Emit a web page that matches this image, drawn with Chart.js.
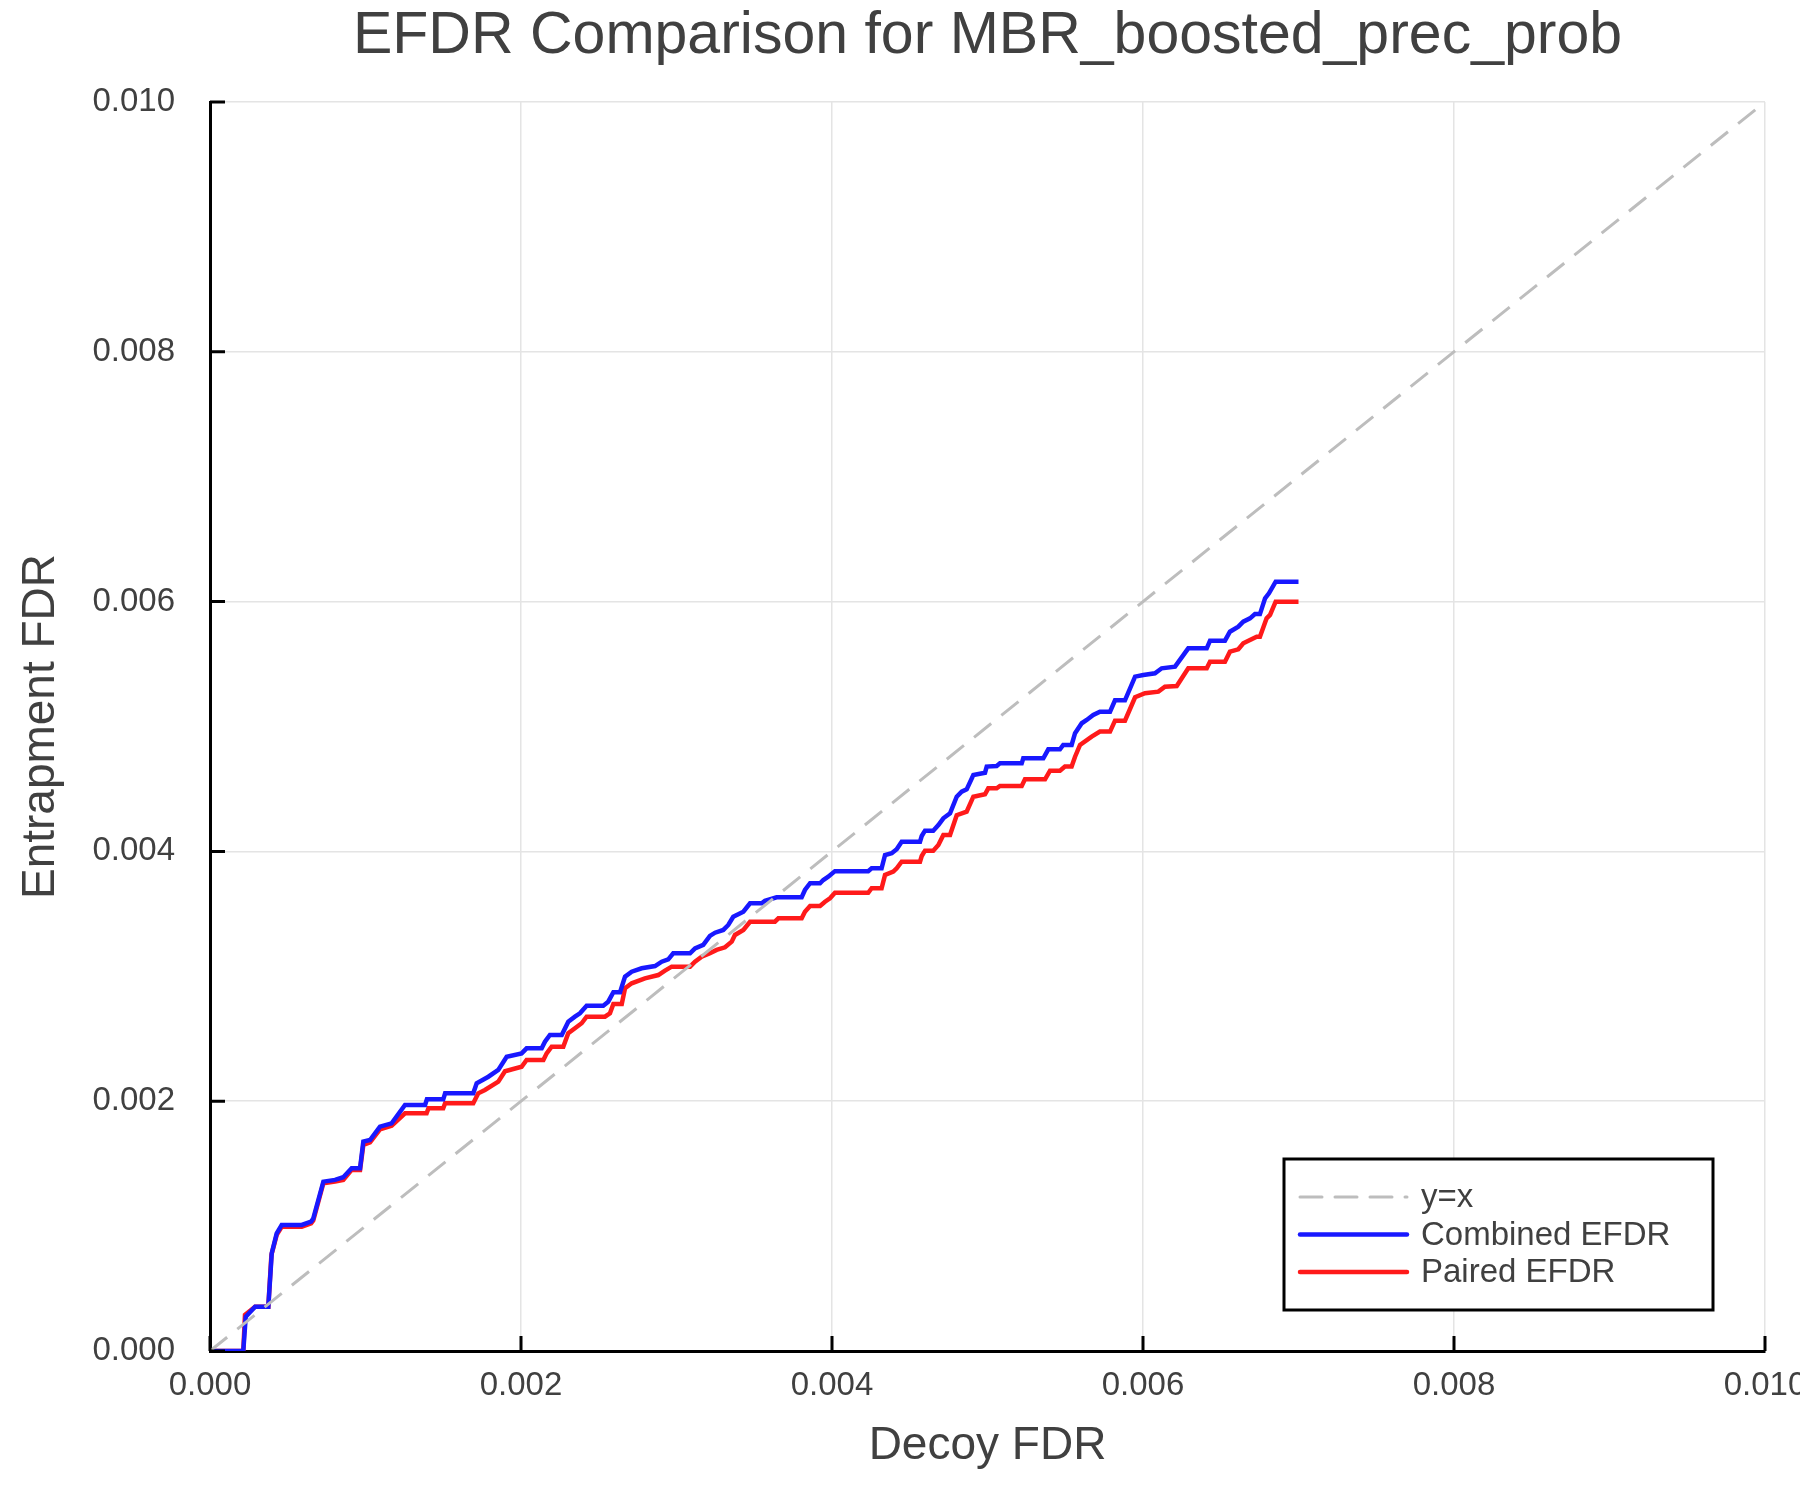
<!DOCTYPE html>
<html>
<head>
<meta charset="utf-8">
<title>EFDR Comparison</title>
<script src="https://cdn.jsdelivr.net/npm/chart.js@4.4.1/dist/chart.umd.min.js"></script>
<style>
  html, body { margin: 0; padding: 0; background: #fff; }
  canvas { display: block; }
</style>
</head>
<body>
<canvas id="efdrChart" width="1800" height="1500"></canvas>
<script>
const titleText = "EFDR Comparison for MBR_boosted_prec_prob";
const seriesLabels = ["y=x", "Combined EFDR", "Paired EFDR"];
const tickValues = [0, 0.002, 0.004, 0.006, 0.008, 0.010];

const diagX = [0, 0.01];
const diagY = [0, 0.01];

const combinedX = [
    0, 0.000214, 0.000230, 0.000290, 0.000375, 0.000397, 0.000429, 0.000461, 0.000590, 0.000650,
    0.000664, 0.000729, 0.000804, 0.000857, 0.000911, 0.000965, 0.000986, 0.001029, 0.001093, 0.001168,
    0.001254, 0.001383, 0.001395, 0.001500, 0.001512, 0.001693, 0.001715, 0.001790, 0.001854, 0.001908,
    0.002004, 0.002036, 0.002133, 0.002154, 0.002186, 0.002262, 0.002304, 0.002347, 0.002379, 0.002422,
    0.002529, 0.002561, 0.002594, 0.002637, 0.002669, 0.002712, 0.002776, 0.002862, 0.002905, 0.002947,
    0.002979, 0.003087, 0.003119, 0.003172, 0.003215, 0.003248, 0.003301, 0.003333, 0.003365, 0.003430,
    0.003473, 0.003548, 0.003569, 0.003644, 0.003805, 0.003826, 0.003859, 0.003923, 0.003944, 0.003976,
    0.004019, 0.004233, 0.004255, 0.004319, 0.004341, 0.004384, 0.004416, 0.004448, 0.004566, 0.004577,
    0.004598, 0.004651, 0.004684, 0.004716, 0.004759, 0.004802, 0.004834, 0.004866, 0.004909, 0.004984,
    0.004995, 0.005059, 0.005080, 0.005220, 0.005230, 0.005359, 0.005391, 0.005466, 0.005487, 0.005541,
    0.005563, 0.005606, 0.005638, 0.005680, 0.005723, 0.005788, 0.005820, 0.005884, 0.005949, 0.006002,
    0.006077, 0.006120, 0.006206, 0.006291, 0.006410, 0.006431, 0.006527, 0.006559, 0.006613, 0.006645,
    0.006688, 0.006720, 0.006752, 0.006785, 0.006810, 0.006853, 0.007000
];
const combinedEfdr = [
    0, 0, 0.000275, 0.000355, 0.000355, 0.000782, 0.000942, 0.001009, 0.001009, 0.001035,
    0.001060, 0.001356, 0.001370, 0.001391, 0.001463, 0.001463, 0.001676, 0.001689, 0.001796, 0.001823,
    0.001970, 0.001970, 0.002015, 0.002015, 0.002063, 0.002063, 0.002143, 0.002196, 0.002250, 0.002356,
    0.002383, 0.002423, 0.002423, 0.002476, 0.002530, 0.002530, 0.002637, 0.002677, 0.002704, 0.002765,
    0.002765, 0.002797, 0.002872, 0.002872, 0.002997, 0.003037, 0.003064, 0.003082, 0.003117, 0.003136,
    0.003184, 0.003184, 0.003224, 0.003251, 0.003323, 0.003349, 0.003371, 0.003411, 0.003477, 0.003517,
    0.003585, 0.003585, 0.003605, 0.003633, 0.003633, 0.003691, 0.003745, 0.003745, 0.003771, 0.003797,
    0.003842, 0.003842, 0.003865, 0.003865, 0.003971, 0.003985, 0.004017, 0.004078, 0.004078, 0.004123,
    0.004166, 0.004166, 0.004211, 0.004265, 0.004305, 0.004438, 0.004478, 0.004497, 0.004612, 0.004630,
    0.004679, 0.004684, 0.004705, 0.004705, 0.004745, 0.004745, 0.004817, 0.004817, 0.004852, 0.004852,
    0.004946, 0.005026, 0.005052, 0.005092, 0.005119, 0.005119, 0.005210, 0.005210, 0.005399, 0.005412,
    0.005426, 0.005466, 0.005479, 0.005626, 0.005626, 0.005687, 0.005687, 0.005759, 0.005799, 0.005839,
    0.005866, 0.005900, 0.005900, 0.006026, 0.006066, 0.006159, 0.006159
];

const pairedX = [
    0, 0.000214, 0.000225, 0.000290, 0.000375, 0.000395, 0.000429, 0.000461, 0.000590, 0.000650,
    0.000664, 0.000729, 0.000804, 0.000857, 0.000911, 0.000965, 0.000986, 0.001029, 0.001093, 0.001168,
    0.001254, 0.001393, 0.001405, 0.001500, 0.001512, 0.001693, 0.001725, 0.001768, 0.001854, 0.001897,
    0.002004, 0.002036, 0.002144, 0.002165, 0.002197, 0.002272, 0.002304, 0.002347, 0.002390, 0.002422,
    0.002540, 0.002572, 0.002594, 0.002648, 0.002669, 0.002712, 0.002797, 0.002883, 0.002926, 0.002969,
    0.003087, 0.003119, 0.003162, 0.003215, 0.003258, 0.003312, 0.003355, 0.003376, 0.003430, 0.003473,
    0.003633, 0.003655, 0.003805, 0.003826, 0.003859, 0.003923, 0.003955, 0.003987, 0.004019, 0.004233,
    0.004255, 0.004319, 0.004341, 0.004394, 0.004416, 0.004448, 0.004566, 0.004577, 0.004598, 0.004651,
    0.004684, 0.004716, 0.004759, 0.004802, 0.004866, 0.004909, 0.004984, 0.005005, 0.005059, 0.005080,
    0.005220, 0.005241, 0.005370, 0.005402, 0.005466, 0.005498, 0.005541, 0.005563, 0.005595, 0.005670,
    0.005723, 0.005788, 0.005820, 0.005884, 0.005949, 0.006013, 0.006099, 0.006141, 0.006217, 0.006291,
    0.006410, 0.006431, 0.006527, 0.006559, 0.006613, 0.006645, 0.006688, 0.006731, 0.006752, 0.006795,
    0.006817, 0.006853, 0.007000
];
const pairedEfdr = [
    0, 0, 0.000290, 0.000355, 0.000355, 0.000770, 0.000930, 0.000995, 0.000995, 0.001022,
    0.001045, 0.001343, 0.001356, 0.001370, 0.001450, 0.001450, 0.001650, 0.001670, 0.001775, 0.001803,
    0.001903, 0.001903, 0.001943, 0.001943, 0.001983, 0.001983, 0.002063, 0.002090, 0.002156, 0.002240,
    0.002276, 0.002330, 0.002330, 0.002383, 0.002436, 0.002436, 0.002544, 0.002584, 0.002624, 0.002677,
    0.002677, 0.002704, 0.002778, 0.002778, 0.002904, 0.002944, 0.002984, 0.003010, 0.003045, 0.003077,
    0.003077, 0.003117, 0.003157, 0.003184, 0.003211, 0.003232, 0.003277, 0.003331, 0.003371, 0.003437,
    0.003437, 0.003464, 0.003464, 0.003517, 0.003563, 0.003563, 0.003597, 0.003625, 0.003669, 0.003669,
    0.003705, 0.003705, 0.003811, 0.003838, 0.003865, 0.003918, 0.003918, 0.003963, 0.004006, 0.004006,
    0.004051, 0.004131, 0.004131, 0.004290, 0.004318, 0.004438, 0.004457, 0.004505, 0.004505, 0.004524,
    0.004524, 0.004577, 0.004577, 0.004646, 0.004646, 0.004679, 0.004679, 0.004758, 0.004852, 0.004919,
    0.004959, 0.004959, 0.005047, 0.005047, 0.005234, 0.005266, 0.005279, 0.005319, 0.005324, 0.005466,
    0.005466, 0.005519, 0.005519, 0.005599, 0.005618, 0.005666, 0.005693, 0.005719, 0.005719, 0.005866,
    0.005893, 0.005999, 0.005999
];

const FONT = "'Liberation Sans', Arial, Helvetica, sans-serif";
const TEXT_COLOR = "#404040";

function toPoints(xs, ys) {
    return xs.map((x, i) => ({ x: x, y: ys[i] }));
}

// title centred over the plot area, not the canvas
const titlePlugin = {
    id: "plotTitle",
    afterDraw(chart) {
        const { ctx, chartArea } = chart;
        ctx.save();
        ctx.font = "59px " + FONT;
        ctx.fillStyle = TEXT_COLOR;
        ctx.textAlign = "center";
        ctx.textBaseline = "middle";
        ctx.fillText(titleText, (chartArea.left + chartArea.right) / 2, 37);
        ctx.restore();
    }
};

// tick marks pointing into the plot
const innerTicks = {
    id: "innerTicks",
    afterDatasetsDraw(chart) {
        const { ctx, chartArea, scales } = chart;
        ctx.save();
        ctx.strokeStyle = "#000";
        ctx.lineWidth = 3;
        ctx.beginPath();
        scales.x.ticks.forEach(t => {
            const px = scales.x.getPixelForValue(t.value);
            ctx.moveTo(px, chartArea.bottom);
            ctx.lineTo(px, chartArea.bottom - 15);
        });
        scales.y.ticks.forEach(t => {
            const py = scales.y.getPixelForValue(t.value);
            ctx.moveTo(chartArea.left, py);
            ctx.lineTo(chartArea.left + 15, py);
        });
        ctx.stroke();
        ctx.restore();
    }
};

// boxed legend in the lower right of the plot
const boxLegend = {
    id: "boxLegend",
    afterDraw(chart) {
        const { ctx, chartArea } = chart;
        const w = 429, h = 151;
        const x0 = chartArea.right - 52 - w;
        const y0 = chartArea.bottom - 41 - h;
        ctx.save();
        ctx.fillStyle = "#fff";
        ctx.fillRect(x0, y0, w, h);
        ctx.strokeStyle = "#000";
        ctx.lineWidth = 3;
        ctx.strokeRect(x0, y0, w, h);
        ctx.font = "33px " + FONT;
        ctx.textBaseline = "middle";
        ctx.textAlign = "left";
        chart.data.datasets.forEach((ds, i) => {
            const ry = y0 + 38 + i * 37.5;
            ctx.strokeStyle = ds.borderColor;
            ctx.lineWidth = ds.borderWidth;
            ctx.lineCap = "round";
            ctx.setLineDash(ds.borderDash || []);
            ctx.beginPath();
            ctx.moveTo(x0 + 16, ry);
            ctx.lineTo(x0 + 123, ry);
            ctx.stroke();
            ctx.setLineDash([]);
            ctx.fillStyle = TEXT_COLOR;
            ctx.fillText(ds.label, x0 + 137, ry + 1);
        });
        ctx.restore();
    }
};

const axisCommon = {
    type: "linear",
    min: 0,
    max: 0.01,
    afterBuildTicks(scale) {
        scale.ticks = tickValues.map(v => ({ value: v }));
    },
    grid: { color: "#e4e4e4", lineWidth: 1.5, drawTicks: false },
    border: { display: true, color: "#000", width: 3 }
};

new Chart(document.getElementById("efdrChart"), {
    type: "scatter",
    data: {
        datasets: [
            {
                label: seriesLabels[0],
                data: toPoints(diagX, diagY),
                showLine: true,
                borderColor: "#bdbdbd",
                borderWidth: 3,
                borderDash: [22, 13],
                pointRadius: 0
            },
            {
                label: seriesLabels[1],
                data: toPoints(combinedX, combinedEfdr),
                showLine: true,
                borderColor: "#1818ff",
                borderWidth: 4.5,
                pointRadius: 0
            },
            {
                label: seriesLabels[2],
                data: toPoints(pairedX, pairedEfdr),
                showLine: true,
                borderColor: "#ff1a1a",
                borderWidth: 4.5,
                pointRadius: 0
            }
        ]
    },
    options: {
        responsive: false,
        devicePixelRatio: 1,
        animation: false,
        layout: { padding: { top: 102, right: 35, left: 0, bottom: 0 } },
        plugins: {
            legend: { display: false },
            title: { display: false },
            tooltip: { enabled: false }
        },
        scales: {
            x: Object.assign({}, axisCommon, {
                position: "bottom",
                ticks: {
                    autoSkip: false,
                    maxRotation: 0,
                    padding: 15,
                    color: TEXT_COLOR,
                    font: { family: FONT, size: 33 },
                    callback: v => v.toFixed(3)
                },
                title: {
                    display: true,
                    text: "Decoy FDR",
                    color: TEXT_COLOR,
                    font: { family: FONT, size: 46 },
                    padding: { top: 0, bottom: 26 }
                },
                afterFit(scale) {
                    scale.height = 149;
                    scale.paddingLeft = 0;
                    scale.paddingRight = 0;
                }
            }),
            y: Object.assign({}, axisCommon, {
                position: "left",
                ticks: {
                    autoSkip: false,
                    padding: 35,
                    color: TEXT_COLOR,
                    font: { family: FONT, size: 33 },
                    callback: v => v.toFixed(3)
                },
                title: {
                    display: true,
                    text: "Entrapment FDR",
                    color: TEXT_COLOR,
                    font: { family: FONT, size: 46 },
                    padding: { top: 14, bottom: 0 }
                },
                afterFit(scale) {
                    scale.width = 210;
                }
            })
        }
    },
    plugins: [titlePlugin, innerTicks, boxLegend]
});
</script>
</body>
</html>
